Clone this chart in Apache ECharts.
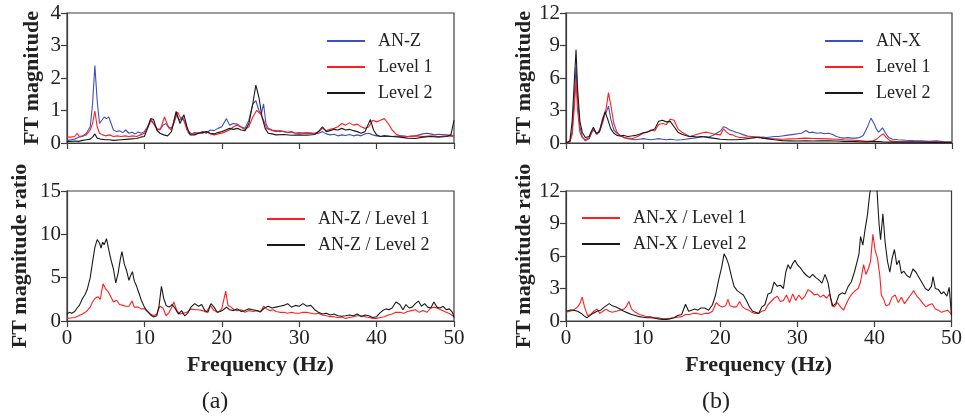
<!DOCTYPE html>
<html>
<head>
<meta charset="utf-8">
<script src="https://cdn.jsdelivr.net/npm/echarts@6/dist/echarts.min.js"></script>
<style>
html,body{margin:0;padding:0;background:#fff;}
#chart{width:965px;height:419px;}
</style>
</head>
<body>
<div id="chart"></div>
<script>
// Fourier amplitude spectra [frequency Hz, magnitude]
const anZ = [[0,0.08],[0.5,0.1],[1,0.12],[1.5,0.18],[2,0.2],[2.5,0.3],[3,0.5],[3.3,1.2],[3.6,2.38],[3.9,1.3],[4.2,0.6],[4.5,0.7],[4.8,0.8],[5.1,0.75],[5.4,0.8],[5.7,0.6],[6,0.4],[6.4,0.35],[6.8,0.38],[7.2,0.32],[7.6,0.4],[8,0.3],[8.4,0.33],[8.8,0.28],[9.2,0.34],[9.6,0.3],[10,0.35],[10.4,0.5],[10.8,0.7],[11.2,0.6],[11.6,0.45],[12,0.4],[12.4,0.55],[12.8,0.6],[13.2,0.45],[13.6,0.5],[14.1,0.9],[14.5,0.7],[14.9,0.8],[15.3,0.6],[15.7,0.3],[16.1,0.28],[16.5,0.32],[17,0.3],[17.5,0.35],[18,0.3],[18.5,0.4],[19,0.38],[19.5,0.45],[20,0.5],[20.6,0.75],[21,0.55],[21.5,0.6],[22,0.58],[22.5,0.5],[23,0.45],[23.5,0.7],[24,1.2],[24.4,1.3],[24.8,1.0],[25.1,0.9],[25.4,1.2],[25.7,0.6],[26,0.45],[26.5,0.4],[27,0.38],[27.5,0.35],[28,0.36],[28.5,0.32],[29,0.34],[29.5,0.3],[30,0.32],[30.5,0.3],[31,0.28],[31.5,0.3],[32,0.28],[32.5,0.3],[33,0.35],[33.5,0.28],[34,0.25],[34.5,0.27],[35,0.22],[35.5,0.25],[36,0.23],[36.5,0.26],[37,0.22],[37.5,0.25],[38,0.22],[38.5,0.28],[39,0.3],[39.5,0.25],[40,0.22],[40.5,0.2],[41,0.22],[42,0.2],[43,0.22],[44,0.2],[45,0.22],[46,0.28],[46.5,0.3],[47,0.28],[47.5,0.25],[48,0.27],[49,0.25],[50,0.23]];
const levelZ1 = [[0,0.18],[0.5,0.18],[1,0.2],[1.3,0.3],[1.6,0.2],[2,0.22],[2.5,0.25],[3,0.4],[3.3,0.6],[3.6,0.98],[3.9,0.5],[4.2,0.3],[4.6,0.25],[5,0.22],[5.5,0.25],[6,0.2],[6.5,0.22],[7,0.2],[7.5,0.22],[8,0.2],[8.5,0.22],[9,0.2],[9.5,0.25],[10,0.3],[10.5,0.5],[10.9,0.72],[11.3,0.55],[11.7,0.4],[12.1,0.45],[12.6,0.8],[13,0.55],[13.4,0.4],[13.8,0.6],[14.3,0.95],[14.7,0.75],[15.1,0.7],[15.5,0.4],[16,0.3],[16.5,0.28],[17,0.32],[17.5,0.3],[18,0.35],[18.5,0.28],[19,0.25],[19.5,0.28],[20,0.3],[20.5,0.35],[21,0.4],[21.5,0.5],[22,0.55],[22.5,0.48],[23,0.42],[23.5,0.5],[24,0.8],[24.5,1.0],[25,0.9],[25.4,0.7],[25.8,0.45],[26.3,0.4],[27,0.35],[27.5,0.38],[28,0.35],[28.5,0.33],[29,0.35],[29.5,0.3],[30,0.3],[31,0.32],[32,0.3],[32.5,0.35],[33,0.45],[33.5,0.38],[34,0.42],[34.5,0.45],[35,0.5],[35.5,0.6],[36,0.55],[36.5,0.62],[37,0.55],[37.5,0.58],[38,0.5],[38.5,0.45],[39,0.5],[39.5,0.7],[40,0.65],[40.5,0.7],[41,0.75],[41.5,0.6],[42,0.4],[42.5,0.28],[43,0.22],[44,0.2],[45,0.22],[46,0.2],[47,0.22],[48,0.2],[49,0.22],[50,0.2]];
const levelZ2 = [[0,0.05],[0.5,0.05],[1,0.06],[1.5,0.05],[2,0.08],[2.5,0.1],[3,0.12],[3.3,0.18],[3.6,0.28],[3.9,0.15],[4.3,0.12],[5,0.1],[5.5,0.1],[6,0.08],[7,0.1],[8,0.12],[9,0.14],[9.5,0.18],[10,0.2],[10.4,0.45],[10.8,0.75],[11.2,0.72],[11.6,0.4],[12,0.3],[12.5,0.25],[13,0.22],[13.5,0.35],[14.1,0.97],[14.6,0.6],[15.1,0.87],[15.5,0.5],[15.9,0.25],[16.5,0.25],[17,0.3],[17.5,0.32],[18,0.35],[18.5,0.3],[19,0.28],[19.5,0.32],[20,0.35],[20.5,0.4],[21,0.45],[21.5,0.42],[22,0.45],[22.5,0.4],[23,0.38],[23.5,0.6],[24,1.2],[24.4,1.78],[24.8,1.4],[25.2,0.8],[25.6,0.45],[26,0.3],[26.5,0.28],[27,0.25],[28,0.26],[29,0.24],[30,0.25],[31,0.24],[32,0.26],[32.5,0.35],[33,0.5],[33.5,0.35],[34,0.38],[34.5,0.42],[35,0.4],[35.5,0.45],[36,0.4],[36.5,0.42],[37,0.38],[37.5,0.35],[38,0.3],[38.5,0.35],[39.2,0.72],[39.6,0.4],[40,0.25],[40.5,0.2],[41,0.22],[42,0.2],[43,0.18],[44,0.15],[45,0.14],[46,0.18],[47,0.2],[48,0.18],[49,0.2],[49.6,0.25],[50,0.7]];

const anX = [[0,0],[0.5,0.1],[0.8,1.0],[1.1,4.5],[1.3,7.0],[1.5,4.0],[1.8,1.5],[2.1,0.6],[2.5,0.2],[3,0.4],[3.3,0.9],[3.6,1.2],[4,0.8],[4.4,1.3],[4.8,2.4],[5.2,2.8],[5.5,3.4],[5.8,2.2],[6.2,1.2],[6.6,0.9],[7,0.7],[7.5,0.5],[8,0.4],[8.5,0.35],[9,0.3],[9.5,0.35],[10,0.4],[10.5,0.35],[11,0.3],[11.5,0.35],[12,0.4],[12.5,0.35],[13,0.3],[13.5,0.35],[14,0.3],[14.5,0.28],[15,0.3],[15.5,0.35],[16,0.4],[16.5,0.45],[17,0.5],[17.5,0.55],[18,0.6],[18.5,0.55],[19,0.7],[19.5,0.9],[20,1.1],[20.4,1.5],[20.8,1.4],[21.2,1.2],[21.6,1.1],[22,1.0],[22.5,0.9],[23,0.75],[23.5,0.65],[24,0.6],[24.5,0.55],[25,0.5],[25.5,0.55],[26,0.5],[26.5,0.55],[27,0.6],[27.5,0.6],[28,0.65],[28.5,0.7],[29,0.75],[29.5,0.8],[30,0.85],[30.5,0.9],[31.1,1.15],[31.5,0.95],[32,1.0],[32.5,0.9],[33,0.95],[33.5,0.85],[34,0.9],[34.5,0.8],[35,0.6],[35.5,0.5],[36,0.45],[36.5,0.5],[37,0.45],[37.5,0.45],[38,0.5],[38.5,0.7],[39,1.4],[39.5,2.3],[39.9,1.8],[40.2,1.3],[40.5,1.0],[41,1.4],[41.4,0.9],[41.8,0.5],[42.3,0.35],[43,0.3],[44,0.25],[45,0.22],[46,0.2],[47,0.15],[48,0.2],[49,0.1],[50,0.1]];
const levelX1 = [[0,0],[0.5,0.1],[0.8,0.8],[1.1,3.5],[1.3,5.8],[1.5,3.0],[1.8,1.0],[2.1,0.5],[2.5,0.3],[3,0.5],[3.3,1.0],[3.6,1.3],[4,0.8],[4.4,1.1],[4.8,2.0],[5.2,3.2],[5.5,4.65],[5.8,3.5],[6.2,1.8],[6.6,1.0],[7,0.7],[7.5,0.5],[8,0.45],[8.5,0.4],[9,0.5],[9.5,0.7],[10,0.9],[10.5,1.0],[11,1.2],[11.5,1.1],[12,1.7],[12.5,1.8],[13,1.7],[13.5,2.2],[14,2.1],[14.5,1.3],[15,1.0],[15.5,0.8],[16,0.6],[16.5,0.7],[17,0.8],[17.5,0.9],[18,1.0],[18.5,0.95],[19,0.85],[19.5,0.8],[20,0.75],[20.4,1.3],[20.8,1.0],[21.2,0.8],[21.6,0.75],[22,0.6],[22.5,0.5],[23,0.5],[23.5,0.55],[24,0.6],[24.5,0.55],[25,0.5],[25.5,0.45],[26,0.4],[27,0.38],[28,0.35],[29,0.38],[30,0.4],[31,0.45],[32,0.42],[33,0.4],[34,0.38],[35,0.35],[36,0.3],[37,0.28],[38,0.22],[39,0.15],[39.8,0.2],[40.3,0.4],[40.8,0.7],[41.1,0.85],[41.5,0.5],[42,0.2],[43,0.12],[44,0.1],[45,0.1],[46,0.08],[47,0.1],[48,0.08],[49,0.08],[50,0.06]];
const levelX2 = [[0,0],[0.5,0.2],[0.8,2.0],[1.1,6.0],[1.3,8.6],[1.5,5.0],[1.8,2.0],[2.1,1.0],[2.5,0.5],[3,0.6],[3.3,1.1],[3.55,1.45],[3.9,0.9],[4.3,1.0],[4.7,2.0],[5.05,2.9],[5.4,2.2],[5.8,1.3],[6.2,0.9],[6.6,0.7],[7,0.65],[7.5,0.7],[8,0.6],[8.5,0.65],[9,0.7],[9.5,0.8],[10,0.95],[10.5,1.0],[11,1.15],[11.5,1.3],[12,2.0],[12.5,2.1],[13,1.95],[13.5,2.0],[14,1.5],[14.5,1.0],[15,0.8],[15.5,0.7],[16,0.6],[16.5,0.6],[17,0.55],[17.5,0.6],[18,0.55],[18.5,0.5],[19,0.45],[19.5,0.4],[20,0.35],[21,0.3],[22,0.3],[23,0.35],[24,0.45],[24.5,0.5],[25,0.55],[25.5,0.45],[26,0.4],[27,0.3],[28,0.22],[29,0.2],[30,0.18],[31,0.2],[32,0.18],[33,0.2],[34,0.2],[35,0.18],[36,0.15],[37,0.15],[38,0.12],[39,0.1],[40,0.15],[41,0.1],[42,0.08],[43,0.08],[44,0.08],[45,0.08],[46,0.08],[47,0.06],[48,0.06],[49,0.05],[50,0.05]];

// Spectral ratios [frequency Hz, ratio]
const ratioZ1 = [[0,0.3],[0.5,0.35],[1,0.4],[1.5,0.6],[2,0.8],[2.5,1.1],[3,1.6],[3.3,2.2],[3.6,2.6],[4,2.8],[4.3,2.5],[4.65,4.3],[5,3.7],[5.3,3.4],[5.6,2.9],[6,2.2],[6.4,2.4],[6.8,1.9],[7.2,1.8],[7.6,1.7],[8,1.7],[8.4,2.3],[8.7,1.6],[9.2,1.6],[9.6,1.4],[10,1.4],[10.4,1.1],[10.8,0.8],[11.2,0.6],[11.6,0.8],[12,1.7],[12.4,1.5],[12.8,0.6],[13.2,1.0],[13.5,1.5],[13.8,2.2],[14.2,1.2],[14.6,0.8],[15,0.9],[15.5,1.0],[16,1.4],[16.5,1.3],[17,1.3],[17.5,1.2],[18,1.0],[18.5,1.8],[19,1.2],[19.5,1.0],[20,1.4],[20.5,3.45],[20.8,1.8],[21.2,1.6],[21.6,1.3],[22,1.2],[22.5,1.3],[23,1.0],[23.5,1.2],[24,1.1],[24.5,1.2],[25,1.0],[25.4,1.7],[25.8,1.4],[26.2,1.2],[26.6,1.3],[27,1.1],[27.5,1.0],[28,1.0],[28.5,0.9],[29,1.0],[29.5,0.9],[30,0.9],[30.5,1.0],[31,1.0],[31.5,0.9],[32,0.8],[32.5,0.9],[33,0.7],[33.5,0.6],[34,0.5],[34.5,0.5],[35,0.4],[35.5,0.45],[36,0.3],[36.5,0.4],[37,0.5],[37.5,0.6],[38,0.6],[38.5,0.5],[39,0.4],[39.5,0.3],[40,0.3],[40.5,0.4],[41,0.5],[41.5,0.7],[42,0.8],[42.5,1.0],[43,1.0],[43.5,0.9],[44,1.1],[44.5,1.2],[45,1.3],[45.5,1.0],[46,1.2],[46.5,1.0],[47,1.5],[47.5,1.6],[48,1.4],[48.5,1.2],[49,1.0],[49.5,0.8],[50,0.5]];
const ratioZ2 = [[0,0.8],[0.3,1.0],[0.6,0.9],[1,1.1],[1.3,1.5],[1.6,1.8],[2,2.6],[2.3,3.0],[2.6,3.6],[3,5.0],[3.3,6.8],[3.6,8.5],[3.9,9.4],[4.2,9.0],[4.4,8.4],[4.6,9.1],[4.8,8.8],[5.1,9.5],[5.4,8.2],[5.7,7.0],[6,6.0],[6.3,4.4],[6.6,5.5],[6.9,7.2],[7.1,8.0],[7.4,6.6],[7.7,5.8],[8,4.7],[8.2,5.2],[8.45,5.7],[8.7,4.6],[9,4.0],[9.3,3.2],[9.6,2.4],[10,1.6],[10.4,1.1],[10.8,0.7],[11.2,0.45],[11.6,0.6],[11.9,1.8],[12.2,4.0],[12.5,2.6],[12.8,1.8],[13.2,1.6],[13.6,1.9],[14,1.4],[14.4,0.8],[14.8,1.2],[15.2,0.6],[15.6,0.9],[16,1.6],[16.5,2.0],[17,1.7],[17.4,1.9],[17.8,1.2],[18.2,1.0],[18.6,2.0],[19,1.6],[19.4,1.0],[19.8,1.1],[20.2,1.3],[20.6,1.6],[21,1.3],[21.5,1.2],[22,1.4],[22.5,1.1],[23,1.2],[23.5,1.4],[24,1.3],[24.5,1.2],[25,1.1],[25.5,1.5],[26,1.7],[26.5,1.5],[27,1.6],[27.5,1.7],[28,1.8],[28.5,2.0],[29,1.6],[29.5,1.8],[30,1.7],[30.5,2.0],[31,1.7],[31.5,1.8],[32,1.3],[32.5,1.0],[33,0.8],[33.5,0.9],[34,0.7],[34.5,0.8],[35,0.6],[35.5,0.55],[36,0.6],[36.5,0.7],[37,0.6],[37.5,0.8],[38,0.5],[38.5,0.7],[39,0.6],[39.5,0.4],[40,0.5],[40.4,0.9],[40.8,1.2],[41.2,1.4],[41.6,1.3],[42,1.5],[42.5,2.2],[43,1.9],[43.4,1.3],[43.8,1.9],[44.2,1.5],[44.6,1.6],[45,2.0],[45.4,2.3],[45.8,1.7],[46.2,2.0],[46.6,1.6],[47,1.5],[47.4,2.2],[47.8,1.6],[48.2,1.5],[48.6,1.7],[49,1.3],[49.4,1.4],[49.8,1.0],[50,0.4]];
const ratioX1 = [[0,0.8],[0.5,0.9],[1,1.0],[1.5,1.3],[1.8,1.6],[2.1,2.2],[2.4,1.3],[2.8,0.5],[3.2,0.6],[3.6,0.9],[4,1.1],[4.4,0.7],[4.8,0.9],[5.2,1.1],[5.6,0.9],[6,0.8],[6.5,0.9],[7,1.0],[7.5,1.1],[7.8,1.3],[8.15,1.8],[8.5,1.1],[9,0.8],[9.5,0.6],[10,0.5],[10.5,0.4],[11,0.4],[11.5,0.3],[12,0.3],[12.5,0.2],[13,0.2],[13.5,0.25],[14,0.3],[14.5,0.35],[15,0.4],[15.5,0.6],[16,0.6],[16.5,0.7],[17,0.7],[17.5,0.6],[18,0.7],[18.5,0.7],[19,0.9],[19.5,1.7],[19.9,1.4],[20.3,1.3],[20.7,1.4],[21,2.0],[21.3,1.4],[21.7,1.3],[22.1,1.3],[22.5,1.8],[22.9,1.3],[23.3,1.1],[23.7,1.0],[24.1,0.8],[24.5,0.7],[25,0.7],[25.4,0.9],[25.8,1.0],[26.2,1.5],[26.6,1.8],[27,2.1],[27.4,2.3],[27.8,1.8],[28.2,1.9],[28.6,2.4],[29,1.7],[29.4,2.5],[29.8,1.9],[30.2,2.4],[30.6,2.0],[31,2.3],[31.4,2.9],[31.8,2.7],[32.2,2.4],[32.6,2.5],[33,2.2],[33.4,2.4],[33.8,2.1],[34.2,2.5],[34.5,1.4],[34.8,1.3],[35.2,1.7],[35.6,1.3],[36,1.0],[36.3,1.5],[36.7,2.1],[37.1,2.5],[37.5,2.8],[37.9,3.0],[38.2,3.6],[38.6,5.2],[38.9,4.3],[39.2,4.8],[39.5,5.5],[39.8,8.0],[40.1,6.5],[40.4,5.8],[40.7,4.2],[40.9,2.4],[41.2,2.0],[41.5,1.4],[41.9,1.5],[42.3,2.2],[42.7,2.4],[43.1,1.7],[43.5,2.2],[43.9,1.6],[44.3,2.0],[44.7,2.4],[45.1,2.8],[45.5,2.3],[45.9,2.0],[46.3,1.6],[46.7,1.3],[47.1,1.5],[47.5,1.6],[47.9,1.1],[48.3,1.0],[48.7,0.8],[49.1,0.9],[49.5,1.0],[50,0.6]];
const ratioX2 = [[0,0.9],[0.5,1.0],[1,1.0],[1.5,0.9],[2,0.7],[2.3,0.5],[2.7,0.3],[3.1,0.5],[3.5,0.7],[4,0.9],[4.5,1.0],[5,1.3],[5.6,1.6],[6,1.4],[6.5,1.3],[7,1.1],[7.5,0.9],[8,0.75],[8.5,0.6],[9,0.5],[9.5,0.4],[10,0.35],[10.5,0.3],[11,0.3],[11.5,0.25],[12,0.2],[12.5,0.15],[13,0.15],[13.5,0.2],[14,0.3],[14.5,0.5],[15,0.6],[15.5,1.55],[15.9,0.9],[16.3,1.0],[16.7,1.1],[17.1,1.0],[17.5,1.2],[18,1.2],[18.5,1.0],[19,1.5],[19.4,2.4],[19.8,3.8],[20.2,5.0],[20.5,6.2],[20.8,5.8],[21.1,5.2],[21.5,4.0],[21.8,3.2],[22.2,2.8],[22.6,2.6],[23,2.4],[23.4,1.9],[23.8,1.3],[24.2,0.9],[24.6,0.8],[25,0.7],[25.4,1.3],[25.8,1.5],[26.2,2.5],[26.6,2.6],[27,3.6],[27.4,3.2],[27.8,3.3],[28.2,3.0],[28.5,4.5],[28.8,5.2],[29.1,4.8],[29.4,5.3],[29.7,5.6],[30,5.2],[30.4,4.9],[30.8,4.5],[31.2,4.2],[31.6,4.0],[32,4.3],[32.4,4.0],[32.8,3.8],[33.2,3.5],[33.6,4.3],[34,3.5],[34.3,2.2],[34.6,1.4],[35,1.6],[35.4,2.4],[35.8,2.6],[36.2,2.5],[36.6,3.2],[37,3.6],[37.4,4.5],[37.8,5.6],[38,6.2],[38.2,7.8],[38.5,7.0],[38.8,8.5],[39.1,9.8],[39.4,11.8],[39.7,12.6],[40,12.3],[40.3,12.5],[40.6,9.0],[40.8,7.5],[41.1,9.9],[41.4,7.2],[41.7,5.5],[42,4.5],[42.3,5.8],[42.6,6.6],[42.9,5.2],[43.2,5.6],[43.5,4.4],[43.8,4.6],[44.2,4.2],[44.6,4.0],[45,4.8],[45.4,4.5],[45.8,4.0],[46.2,3.5],[46.6,3.0],[47,2.8],[47.4,3.2],[47.6,4.1],[47.9,3.0],[48.3,2.9],[48.7,2.5],[49,2.7],[49.4,2.3],[49.7,3.1],[50,0.5]];

// Axis ranges and tick steps per panel
const yMax = [4, 12, 15, 12];
const yStep = [1, 3, 5, 3];
const xMax = 50, xStep = 10;
const panelTags = ['(a)', '(b)'];

const FONT = 'Liberation Serif';
const INK = '#222';
const AXIS = '#3c3c3c';
const BLUE = '#3f4fbf', RED = '#ff1f1f', BLACK = '#1a1a1a';

const grids = [
  {left: 67, top: 13, width: 387, height: 130},
  {left: 566, top: 13, width: 386, height: 130},
  {left: 67, top: 191, width: 387, height: 130},
  {left: 566, top: 191, width: 386, height: 130}
].map(g => Object.assign({show: true, borderColor: AXIS, borderWidth: 1.2, backgroundColor: 'transparent'}, g));

const yNameGap = [24, 30, 36, 30];

const xAxes = grids.map((g, i) => ({
  type: 'value', gridIndex: i, min: 0, max: xMax, interval: xStep,
  axisLine: {show: true, onZero: false, lineStyle: {color: AXIS, width: 1.2}},
  axisTick: {show: true, length: 6, lineStyle: {color: AXIS, width: 1.2}},
  splitLine: {show: false},
  axisLabel: {show: i >= 2, color: INK, fontFamily: FONT, fontSize: 21, margin: 7},
  name: i >= 2 ? 'Frequency (Hz)' : '',
  nameLocation: 'middle', nameGap: 33,
  nameTextStyle: {color: INK, fontFamily: FONT, fontSize: 22, fontWeight: 'bold'}
}));

const yAxes = grids.map((g, i) => ({
  type: 'value', gridIndex: i, min: 0, max: yMax[i], interval: yStep[i],
  axisLine: {show: true, lineStyle: {color: AXIS, width: 1.2}},
  axisTick: {show: true, length: 6, lineStyle: {color: AXIS, width: 1.2}},
  splitLine: {show: false},
  axisLabel: {color: INK, fontFamily: FONT, fontSize: 21, margin: 6},
  name: i < 2 ? 'FT magnitude' : 'FT magnitude ratio',
  nameLocation: 'middle', nameGap: yNameGap[i],
  nameTextStyle: {color: INK, fontFamily: FONT, fontSize: 22, fontWeight: 'bold'}
}));

function line(name, data, color, idx, z) {
  return {
    name: name, type: 'line', data: data, xAxisIndex: idx, yAxisIndex: idx,
    symbol: 'none', smooth: false, clip: true, z: z,
    lineStyle: {color: color, width: 1.1}, itemStyle: {color: color}
  };
}

const series = [
  line('AN-Z', anZ, BLUE, 0, 2),
  line('Level 1', levelZ1, RED, 0, 3),
  line('Level 2', levelZ2, BLACK, 0, 4),
  line('AN-X', anX, BLUE, 1, 2),
  line('Level 1', levelX1, RED, 1, 3),
  line('Level 2', levelX2, BLACK, 1, 4),
  line('AN-Z / Level 1', ratioZ1, RED, 2, 3),
  line('AN-Z / Level 2', ratioZ2, BLACK, 2, 4),
  line('AN-X / Level 1', ratioX1, RED, 3, 3),
  line('AN-X / Level 2', ratioX2, BLACK, 3, 4)
];

// Plain line keys: a tiny rect marker hidden inside the legend stroke
function legendAt(left, top, names) {
  return {
    left: left, top: top, orient: 'vertical', icon: 'rect',
    itemWidth: 38, itemHeight: 2, itemGap: 6, selectedMode: false, data: names,
    textStyle: {color: INK, fontFamily: FONT, fontSize: 18, padding: [0, 0, 0, 8], lineHeight: 20}
  };
}

const chart = echarts.init(document.getElementById('chart'), null, {renderer: 'canvas'});
chart.setOption({
  backgroundColor: '#fff',
  animation: false,
  textStyle: {fontFamily: FONT},
  grid: grids,
  xAxis: xAxes,
  yAxis: yAxes,
  legend: [
    legendAt(322, 26, ['AN-Z', 'Level 1', 'Level 2']),
    legendAt(820, 26, ['AN-X', 'Level 1', 'Level 2']),
    legendAt(262, 204, ['AN-Z / Level 1', 'AN-Z / Level 2']),
    legendAt(577, 203, ['AN-X / Level 1', 'AN-X / Level 2'])
  ],
  title: panelTags.map((t, i) => ({
    text: t, left: i === 0 ? 210 : 711, top: 385, textAlign: 'center',
    textStyle: {color: INK, fontFamily: FONT, fontSize: 24, fontWeight: 'normal'}
  })),
  series: series
});
</script>
</body>
</html>
